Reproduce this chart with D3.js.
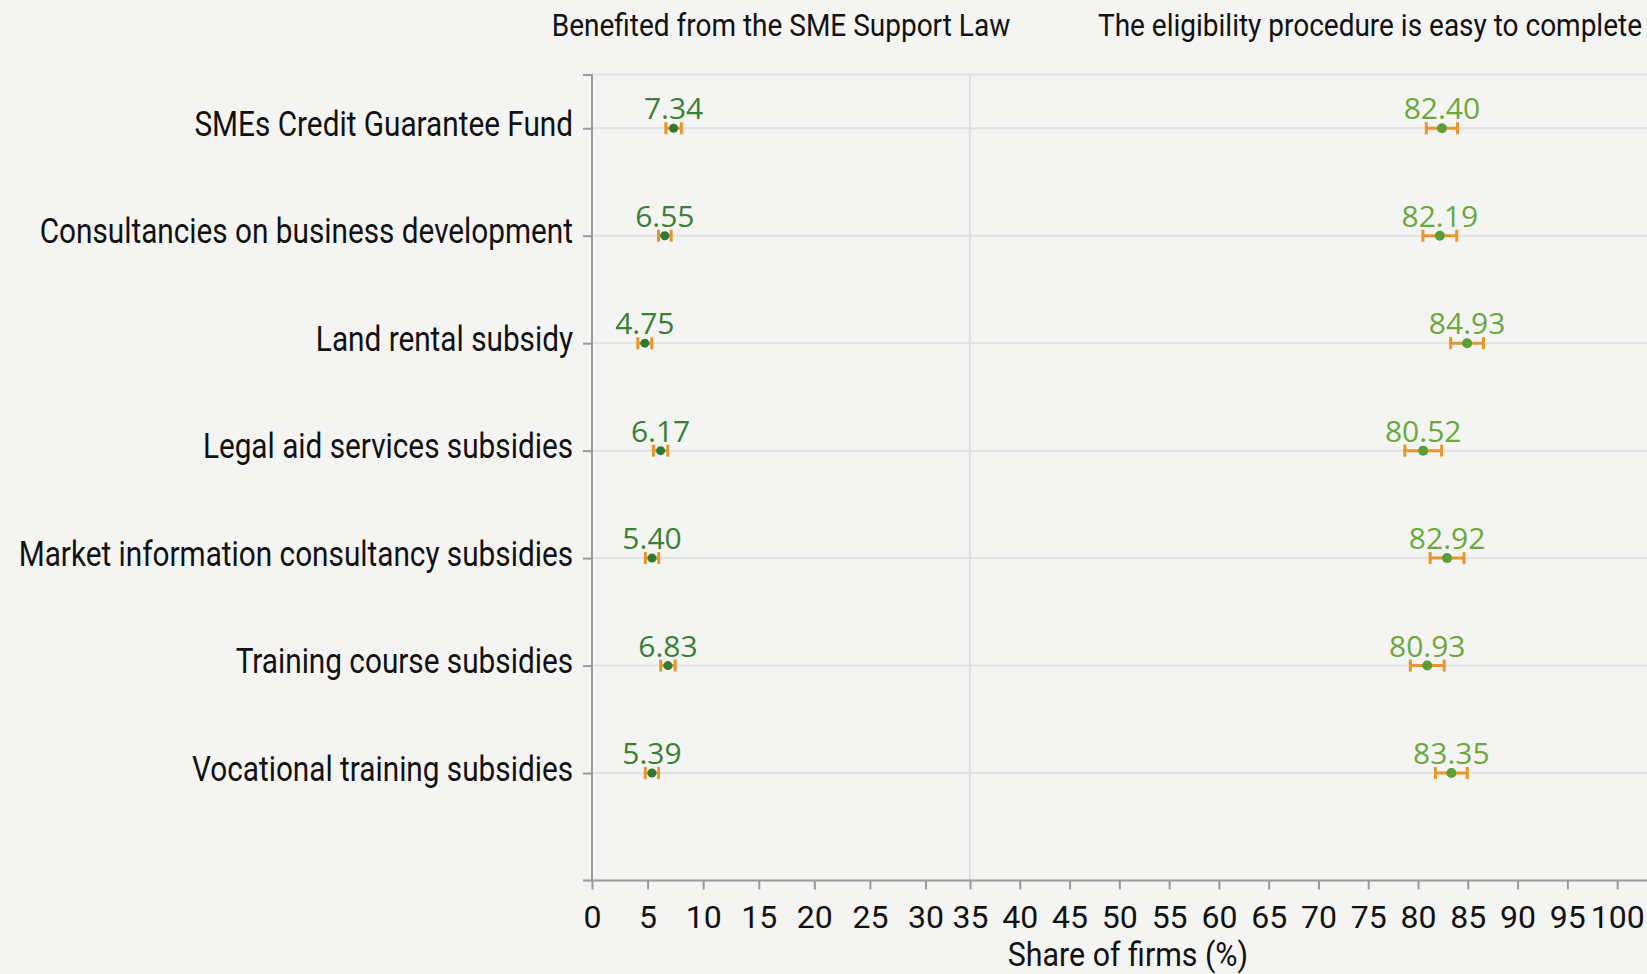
<!DOCTYPE html>
<meta charset="utf-8">
<html>
<head>
  <title>SME support programmes</title>
  <style>
    body { margin: 0; background: #f4f4f2; }
    svg { display: block; }
    .cond { font-family: Roboto, "DejaVu Sans", sans-serif; fill: #111; }
    .val { font-family: "Open Sans", "Noto Sans", sans-serif; }
    .grid { stroke: #e1e1e1; stroke-width: 2px; }
    .axis path, .axis line { stroke: #9a9a9a; stroke-width: 2px; }
  </style>
  <script src="https://d3js.org/d3.v7.min.js"></script>
</head>
<body>
  <svg width="1647" height="974"></svg>
  <script>
    // data
    var categories = [
      "SMEs Credit Guarantee Fund",
      "Consultancies on business development",
      "Land rental subsidy",
      "Legal aid services subsidies",
      "Market information consultancy subsidies",
      "Training course subsidies",
      "Vocational training subsidies"
    ];
    var benefited = [7.34, 6.55, 4.75, 6.17, 5.40, 6.83, 5.39];
    var benefitedErr = [0.70, 0.57, 0.63, 0.65, 0.60, 0.65, 0.60];
    var easy = [82.40, 82.19, 84.93, 80.52, 82.92, 80.93, 83.35];
    var easyErr = [1.57, 1.70, 1.65, 1.85, 1.70, 1.70, 1.60];
    var leftTicks = [0, 5, 10, 15, 20, 25, 30];
    var rightTicks = [35, 40, 45, 50, 55, 60, 65, 70, 75, 80, 85, 90, 95, 100];
    var panelTitles = ["Benefited from the SME Support Law", "The eligibility procedure is easy to complete"];
    var axisTitle = "Share of firms (%)";

    var svg = d3.select("svg");
    var W = 1647;

    // plot box
    var plotLeft = 592, split = 970, plotRight = W, plotTop = 74.5, plotBottom = 880.5;

    var y = d3.scaleLinear().domain([-0.5, 7]).range([plotTop, plotBottom]);
    // two panels share one axis line: left one zoomed on small shares
    var xL = d3.scaleLinear().domain([0, 34]).range([plotLeft, split]);
    var xR = d3.scaleLinear().domain([35, 103]).range([split, plotRight]);

    // squeeze text horizontally, the original face is a narrow one
    function narrow(sel, k) {
      sel.each(function() {
        var t = d3.select(this);
        var x = +t.attr("x") || 0;
        t.attr("x", x / k).attr("transform", "scale(" + k + ",1)");
      });
    }

    // gridlines
    var rows = [-0.5].concat(d3.range(categories.length));
    svg.append("g").selectAll("line")
      .data(rows)
      .enter().append("line")
        .attr("class", "grid")
        .attr("x1", plotLeft).attr("x2", plotRight)
        .attr("y1", function(d) { return y(d); })
        .attr("y2", function(d) { return y(d); });
    svg.append("line")
      .attr("class", "grid")
      .attr("x1", split).attr("x2", split)
      .attr("y1", plotTop).attr("y2", plotBottom);

    // y axis
    var yAxis = svg.append("g")
      .attr("class", "axis cond")
      .attr("transform", "translate(" + plotLeft + ",0)")
      .call(d3.axisLeft(y)
        .tickValues(rows)
        .tickSize(9)
        .tickPadding(10)
        .tickFormat(function(d) { return d < 0 ? "" : categories[d]; }));
    yAxis.select(".domain").attr("d", "M0," + plotTop + "V" + plotBottom);
    yAxis.selectAll("text")
      .attr("font-size", 35).attr("font-family", null).attr("fill", "#111")
      .attr("dy", "0.2em")
      .call(narrow, 0.85);

    // x axes
    function xAxis(scale, ticks) {
      var g = svg.append("g")
        .attr("class", "axis cond")
        .attr("transform", "translate(0," + plotBottom + ")")
        .call(d3.axisBottom(scale).tickValues(ticks).tickSize(9).tickPadding(16));
      g.select(".domain").remove();
      g.selectAll("text").attr("font-size", 32).attr("font-family", null).attr("fill", "#111");
    }
    xAxis(xL, leftTicks);
    xAxis(xR, rightTicks);
    svg.append("line")
      .attr("x1", plotLeft - 9).attr("x2", plotRight)
      .attr("y1", plotBottom).attr("y2", plotBottom)
      .style("stroke", "#9a9a9a").style("stroke-width", 2);

    svg.append("text")
      .attr("class", "cond")
      .attr("x", 1128)
      .attr("y", 966)
      .attr("text-anchor", "middle")
      .attr("font-size", 33)
      .text(axisTitle)
      .call(narrow, 0.92);

    // panel titles
    svg.append("text")
      .attr("class", "cond")
      .attr("x", (plotLeft + split) / 2)
      .attr("y", 36)
      .attr("text-anchor", "middle")
      .attr("font-size", 32)
      .text(panelTitles[0])
      .call(narrow, 0.875);
    svg.append("text")
      .attr("class", "cond")
      .attr("x", W - 5)
      .attr("y", 36)
      .attr("text-anchor", "end")
      .attr("font-size", 32)
      .text(panelTitles[1])
      .call(narrow, 0.875);

    // points with error bars
    function series(vals, errs, scale, dotColor, textColor, r) {
      var g = svg.append("g").selectAll("g")
        .data(vals)
        .enter().append("g");
      g.append("line")
        .attr("x1", function(d, i) { return scale(d - errs[i]); })
        .attr("x2", function(d, i) { return scale(d + errs[i]); })
        .attr("y1", function(d, i) { return y(i); })
        .attr("y2", function(d, i) { return y(i); })
        .style("stroke", "#e8962c").style("stroke-width", 3);
      [-1, 1].forEach(function(s) {
        g.append("line")
          .attr("x1", function(d, i) { return scale(d + s * errs[i]); })
          .attr("x2", function(d, i) { return scale(d + s * errs[i]); })
          .attr("y1", function(d, i) { return y(i) - 6; })
          .attr("y2", function(d, i) { return y(i) + 6; })
          .style("stroke", "#e8962c").style("stroke-width", 3);
      });
      g.append("circle")
        .attr("cx", function(d) { return scale(d); })
        .attr("cy", function(d, i) { return y(i); })
        .attr("r", r)
        .style("fill", dotColor);
      g.append("text")
        .attr("class", "val")
        .attr("x", function(d) { return scale(d); })
        .attr("y", function(d, i) { return y(i) - 9; })
        .attr("text-anchor", "middle")
        .attr("font-size", 30)
        .style("fill", textColor)
        .text(function(d) { return d.toFixed(2); });
    }
    series(benefited, benefitedErr, xL, "#2f7a32", "#3a7f35", 4.5);
    series(easy, easyErr, xR, "#5c9e36", "#6aa83e", 5);
  </script>
</body>
</html>
